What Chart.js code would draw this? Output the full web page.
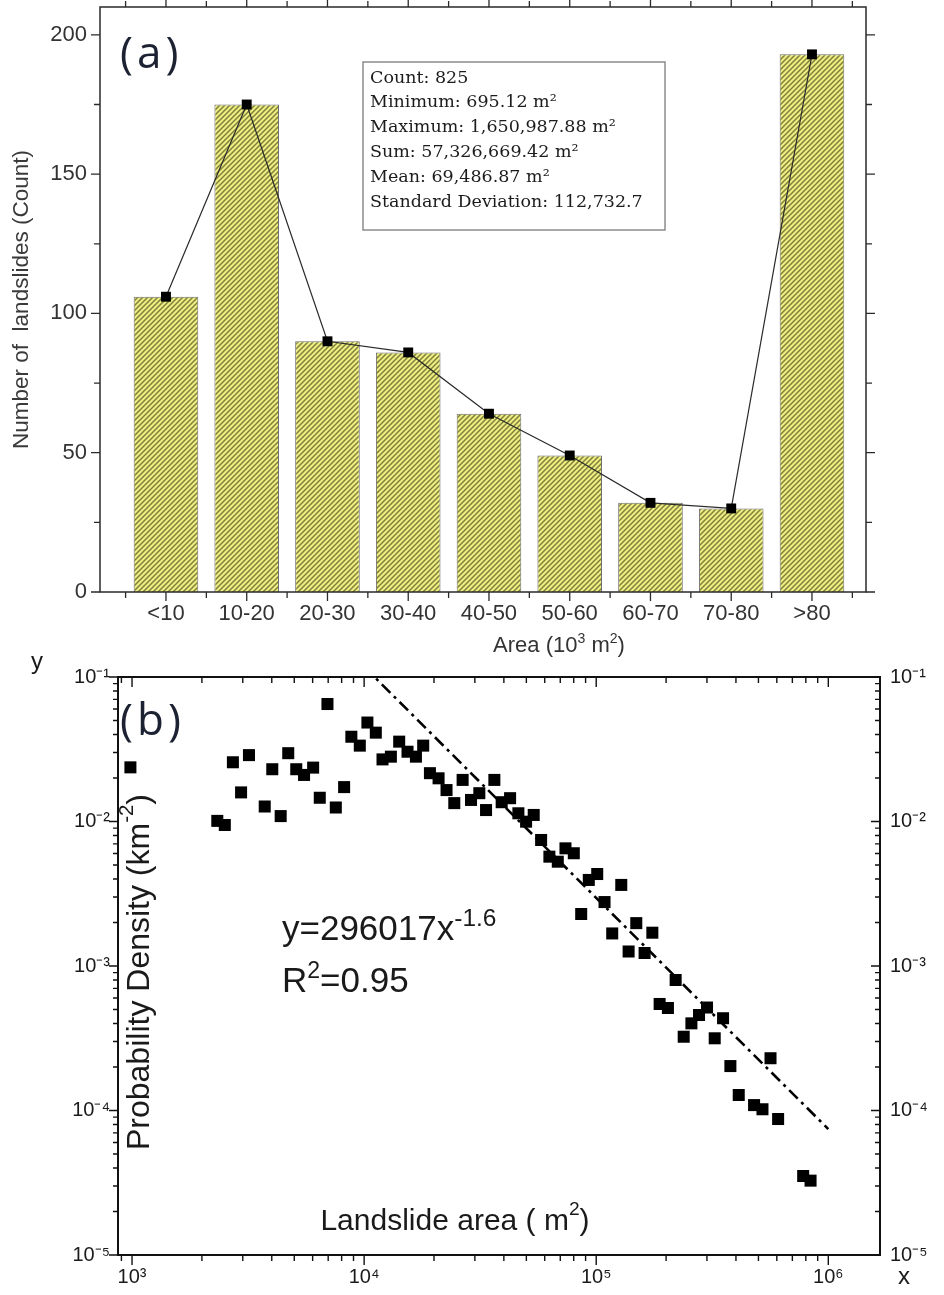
<!DOCTYPE html>
<html>
<head>
<meta charset="utf-8">
<title>Landslide area distribution</title>
<script src="https://cdn.jsdelivr.net/npm/chart.js@4.4.1/dist/chart.umd.min.js"></script>
<style>
  body { margin: 0; background: #fff; }
  .figure { position: relative; width: 944px; height: 1295px; }
  .figure canvas { position: absolute; left: 0; }
  #area-chart { top: 0; }
  #density-chart { top: 650px; }
</style>
</head>
<body>
<div class="figure">
  <canvas id="area-chart" width="944" height="660"></canvas>
  <canvas id="density-chart" width="944" height="645"></canvas>
</div>
<script>
/* Landslide inventory: size classes (a) and probability density (b) */

const SANS = "'Liberation Sans', Arial, sans-serif";

// (a) counts per area class, 10^3 m2
const areaClasses = ['<10', '10-20', '20-30', '30-40', '40-50', '50-60', '60-70', '70-80', '>80'];
const landslideCounts = [106, 175, 90, 86, 64, 49, 32, 30, 193];
const countTicks = [0, 50, 100, 150, 200];
const statLines = [
  'Count: 825',
  'Minimum: 695.12 m\u00b2',
  'Maximum: 1,650,987.88 m\u00b2',
  'Sum: 57,326,669.42 m\u00b2',
  'Mean: 69,486.87 m\u00b2',
  'Standard Deviation: 112,732.7'
];

// (b) probability density vs landslide area (m2)
const densityArea = [984, 2330, 2510, 2720, 2950, 3190, 3730, 4020, 4370, 4710,
  5100, 5510, 6030, 6440, 6950, 7550, 8200, 8810, 9580, 10330,
  11230, 12000, 13040, 14160, 15380, 16720, 17970, 19210, 20930, 22650,
  24460, 26570, 28880, 31360, 33520, 36400, 39140, 42550, 46200, 49870,
  53790, 57890, 62840, 68300, 73700, 80060, 86150, 92900, 101000, 108600,
  117200, 128200, 137900, 148800, 161600, 174500, 187600, 203700, 219900, 238200,
  257100, 277300, 300200, 324000, 352000, 378500, 411200, 478800, 520400, 563600,
  607800, 779300, 838500];
const densityValue = [0.0237, 0.0101, 0.00946, 0.0257, 0.0159, 0.0288, 0.0127, 0.0230, 0.0109, 0.0297,
  0.0230, 0.0210, 0.0236, 0.0146, 0.0650, 0.0125, 0.0173, 0.0386, 0.0335, 0.0484,
  0.0412, 0.0269, 0.0281, 0.0357, 0.0304, 0.0281, 0.0335, 0.0216, 0.0199, 0.0165,
  0.0134, 0.0194, 0.0141, 0.0157, 0.0120, 0.0194, 0.0136, 0.0145, 0.0114, 0.00997,
  0.0111, 0.00745, 0.00571, 0.00527, 0.00652, 0.00603, 0.00229, 0.00394, 0.00433, 0.00277,
  0.00168, 0.00364, 0.00126, 0.00198, 0.00123, 0.00170, 0.000546, 0.000512, 0.000800, 0.000324,
  0.000401, 0.000458, 0.000516, 0.000316, 0.000435, 0.000203, 0.000128, 0.000109, 0.000102, 0.000230,
  0.0000873, 0.0000352, 0.0000327];
const areaDecades = [1e3, 1e4, 1e5, 1e6];
const densityDecades = [1e-5, 1e-4, 1e-3, 1e-2, 1e-1];

// power-law fit y = a * x^b
const fitCoef = 296017;
const fitExp = -1.6;
const fitRange = [1e4, 1e6];

const SUP = { '-': '\u207b', '0': '\u2070', '1': '\u00b9', '2': '\u00b2', '3': '\u00b3',
  '4': '\u2074', '5': '\u2075', '6': '\u2076', '7': '\u2077', '8': '\u2078', '9': '\u2079' };
function powerLabel(v) {
  const e = String(Math.round(Math.log10(v)));
  return '10' + e.split('').map(ch => SUP[ch]).join('');
}

// text runs with raised parts: [[text, raised], ...]
function drawRuns(ctx, runs, x, y, size, family, supScale) {
  const k = supScale || 0.64;
  let cx = x;
  runs.forEach(([text, raised]) => {
    ctx.font = (raised ? size * k : size) + 'px ' + family;
    ctx.fillText(text, cx, raised ? y - size * 0.4 : y);
    cx += ctx.measureText(text).width;
  });
  return cx - x;
}
function runsWidth(ctx, runs, size, family, supScale) {
  const k = supScale || 0.64;
  let w = 0;
  runs.forEach(([text, raised]) => {
    ctx.font = (raised ? size * k : size) + 'px ' + family;
    w += ctx.measureText(text).width;
  });
  return w;
}

function makeHatch() {
  const tile = document.createElement('canvas');
  tile.width = tile.height = 5;
  const g = tile.getContext('2d');
  g.fillStyle = '#eeee82';
  g.fillRect(0, 0, 5, 5);
  g.strokeStyle = '#80803c';
  g.lineWidth = 1.5;
  g.beginPath();
  g.moveTo(-1, 1); g.lineTo(1, -1);
  g.moveTo(0, 5); g.lineTo(5, 0);
  g.moveTo(4, 6); g.lineTo(6, 4);
  g.stroke();
  return g.createPattern(tile, 'repeat');
}

// keep the plot box where it is: no extra room for the end labels
function noEdgePadding(s) {
  s.paddingTop = 0;
  s.paddingBottom = 0;
  s.paddingLeft = 0;
  s.paddingRight = 0;
}

// frame, outward ticks, stats box and labels for panel (a)
const areaDecor = {
  id: 'areaDecor',
  afterDraw(chart) {
    const { ctx, chartArea: a, scales: { x, y } } = chart;
    ctx.save();
    ctx.strokeStyle = '#2a2a2a';
    ctx.lineWidth = 1.5;
    ctx.strokeRect(a.left, a.top, a.right - a.left, a.bottom - a.top);

    ctx.lineWidth = 1.3;
    ctx.beginPath();
    for (let v = 0.5; v <= areaClasses.length + 0.5; v += 0.5) {
      const px = x.getPixelForValue(v);
      const len = Number.isInteger(v) ? 9 : 6;
      ctx.moveTo(px, a.bottom); ctx.lineTo(px, a.bottom + len);
      ctx.moveTo(px, a.top); ctx.lineTo(px, a.top - len);
    }
    for (let v = 0; v <= 200; v += 25) {
      const py = y.getPixelForValue(v);
      const len = v % 50 === 0 ? 9 : 6;
      ctx.moveTo(a.left, py); ctx.lineTo(a.left - len, py);
      ctx.moveTo(a.right, py); ctx.lineTo(a.right + len, py);
    }
    ctx.stroke();

    // summary statistics box
    ctx.fillStyle = '#fff';
    ctx.fillRect(363, 62, 302, 168);
    ctx.strokeStyle = '#8c8c8c';
    ctx.lineWidth = 1.5;
    ctx.strokeRect(363, 62, 302, 168);
    ctx.fillStyle = '#1c1c1c';
    ctx.font = "17.5px 'DejaVu Serif', serif";
    ctx.textBaseline = 'middle';
    ctx.textAlign = 'left';
    statLines.forEach((line, i) => ctx.fillText(line, 370, 78 + i * 24.8));

    // panel tag
    ctx.fillStyle = '#1d2233';
    ctx.font = "44px 'Open Sans', sans-serif";
    ctx.letterSpacing = '4px';
    ctx.fillText('(a)', 120, 55);
    ctx.letterSpacing = '0px';

    // x axis title
    ctx.fillStyle = '#333';
    const runs = [['Area (10', false], ['3', true], [' m', false], ['2', true], [')', false]];
    const w = runsWidth(ctx, runs, 22, SANS);
    ctx.textBaseline = 'alphabetic';
    drawRuns(ctx, runs, 559 - w / 2, 652, 22, SANS);
    ctx.restore();
  }
};

// frame, ticks (outward on left/bottom, inward on top/right) and labels for panel (b)
const densityDecor = {
  id: 'densityDecor',
  afterDraw(chart) {
    const { ctx, chartArea: a, scales: { x, y } } = chart;
    ctx.save();
    ctx.strokeStyle = '#111';
    ctx.lineWidth = 2;
    ctx.strokeRect(a.left, a.top, a.right - a.left, a.bottom - a.top);

    ctx.lineWidth = 1.4;
    ctx.beginPath();
    for (let e = 2; e <= 6; e++) {
      for (let k = 1; k <= 9; k++) {
        const v = k * Math.pow(10, e);
        if (v < x.min || v > x.max) continue;
        const px = x.getPixelForValue(v);
        const len = k === 1 ? 10 : 6;
        ctx.moveTo(px, a.bottom); ctx.lineTo(px, a.bottom + len);
        ctx.moveTo(px, a.top); ctx.lineTo(px, a.top + len);
      }
    }
    for (let e = -5; e <= -1; e++) {
      for (let k = 1; k <= 9; k++) {
        const v = k * Math.pow(10, e);
        if (v < y.min * 0.999 || v > y.max * 1.001) continue;
        const py = y.getPixelForValue(v);
        const len = k === 1 ? 9 : 5;
        ctx.moveTo(a.left, py); ctx.lineTo(a.left - len, py);
        ctx.moveTo(a.right, py); ctx.lineTo(a.right - len, py);
      }
    }
    ctx.stroke();

    ctx.fillStyle = '#1d2233';
    ctx.textBaseline = 'middle';
    ctx.font = "44px 'Open Sans', sans-serif";
    ctx.letterSpacing = '4px';
    ctx.fillText('(b)', 120, 72);
    ctx.letterSpacing = '0px';

    ctx.fillStyle = '#1a1a1a';
    ctx.textBaseline = 'alphabetic';
    drawRuns(ctx, [['y=296017x', false], ['-1.6', true]], 282, 290, 35, SANS, 0.7);
    drawRuns(ctx, [['R', false], ['2', true], ['=0.95', false]], 282, 342, 35, SANS, 0.66);

    ctx.textBaseline = 'middle';
    const xt = [['Landslide area ( m', false], ['2', true], [')', false]];
    drawRuns(ctx, xt, 455 - runsWidth(ctx, xt, 30, SANS) / 2, 572, 30, SANS);

    ctx.save();
    ctx.translate(140, 322);
    ctx.rotate(-Math.PI / 2);
    const yt = [['Probability Density (km', false], ['-2', true], [')', false]];
    drawRuns(ctx, yt, -runsWidth(ctx, yt, 32, SANS) / 2, 0, 32, SANS);
    ctx.restore();

    ctx.font = '24px ' + SANS;
    ctx.fillText('y', 31, 12);
    ctx.fillText('x', 898, 627);
    ctx.restore();
  }
};

const areaPoints = landslideCounts.map((c, i) => ({ x: i + 1, y: c }));

new Chart(document.getElementById('area-chart'), {
  data: {
    datasets: [
      {
        type: 'line',
        data: areaPoints,
        borderColor: '#2b2b2b',
        borderWidth: 1.2,
        pointStyle: 'rect',
        pointRadius: 7,
        pointBackgroundColor: '#000',
        pointBorderWidth: 0,
        order: 0
      },
      {
        type: 'bar',
        data: areaPoints,
        backgroundColor: makeHatch(),
        borderColor: '#6e6e6e',
        borderWidth: 1,
        categoryPercentage: 0.8,
        barPercentage: 1,
        order: 1
      }
    ]
  },
  options: {
    responsive: false,
    animation: false,
    layout: { padding: { top: 7, right: 78, left: 0, bottom: 0 } },
    plugins: { legend: { display: false }, tooltip: { enabled: false } },
    scales: {
      x: {
        type: 'linear',
        offset: false,
        min: 0.183,
        max: 9.669,
        afterBuildTicks: s => { s.ticks = areaClasses.map((c, i) => ({ value: i + 1 })); },
        afterFit: s => { s.height = 68; noEdgePadding(s); },
        grid: { display: false, drawTicks: false },
        border: { display: false },
        ticks: {
          autoSkip: false,
          maxRotation: 0,
          padding: 9,
          color: '#333',
          font: { family: SANS, size: 22 },
          callback: v => areaClasses[v - 1] || ''
        }
      },
      y: {
        min: 0,
        max: 210,
        afterBuildTicks: s => { s.ticks = countTicks.map(v => ({ value: v })); },
        afterFit: s => { s.width = 100; noEdgePadding(s); },
        grid: { display: false, drawTicks: false },
        border: { display: false },
        ticks: { padding: 13, color: '#333', font: { family: SANS, size: 22 } },
        title: {
          display: true,
          text: 'Number of  landslides (Count)',
          color: '#3a3a3a',
          font: { family: SANS, size: 22.5 },
          padding: { top: 8, bottom: 0 }
        }
      }
    }
  },
  plugins: [areaDecor]
});

const logTickOpts = {
  color: '#1a1a1a',
  font: { family: SANS, size: 20 },
  callback: v => powerLabel(v)
};

new Chart(document.getElementById('density-chart'), {
  data: {
    datasets: [
      {
        type: 'scatter',
        data: densityArea.map((a, i) => ({ x: a, y: densityValue[i] })),
        pointStyle: 'rect',
        pointRadius: 8.5,
        pointBackgroundColor: '#000',
        pointBorderWidth: 0
      },
      {
        type: 'line',
        data: fitRange.map(a => ({ x: a, y: fitCoef * Math.pow(a, fitExp) })),
        borderColor: '#000',
        borderWidth: 2.6,
        borderDash: [12, 5, 3, 5],
        pointRadius: 0,
        fill: false
      }
    ]
  },
  options: {
    responsive: false,
    animation: false,
    layout: { padding: { top: 27, right: 0, left: 0, bottom: 0 } },
    plugins: { legend: { display: false }, tooltip: { enabled: false } },
    scales: {
      x: {
        type: 'logarithmic',
        min: 870,
        max: 1.67e6,
        afterBuildTicks: s => { s.ticks = areaDecades.map(v => ({ value: v })); },
        afterFit: s => { s.height = 40; noEdgePadding(s); },
        grid: { display: false, drawTicks: false },
        border: { display: false },
        ticks: Object.assign({ padding: 10, autoSkip: false, maxRotation: 0 }, logTickOpts)
      },
      y: {
        type: 'logarithmic',
        min: 1e-5,
        max: 1e-1,
        afterBuildTicks: s => { s.ticks = densityDecades.map(v => ({ value: v })); },
        afterFit: s => { s.width = 118; noEdgePadding(s); },
        grid: { display: false, drawTicks: false },
        border: { display: false },
        ticks: Object.assign({ padding: 8 }, logTickOpts)
      },
      y2: {
        type: 'logarithmic',
        position: 'right',
        min: 1e-5,
        max: 1e-1,
        afterBuildTicks: s => { s.ticks = densityDecades.map(v => ({ value: v })); },
        afterFit: s => { s.width = 64; noEdgePadding(s); },
        grid: { display: false, drawTicks: false },
        border: { display: false },
        ticks: Object.assign({ padding: 10 }, logTickOpts)
      }
    }
  },
  plugins: [densityDecor]
});
</script>
</body>
</html>
